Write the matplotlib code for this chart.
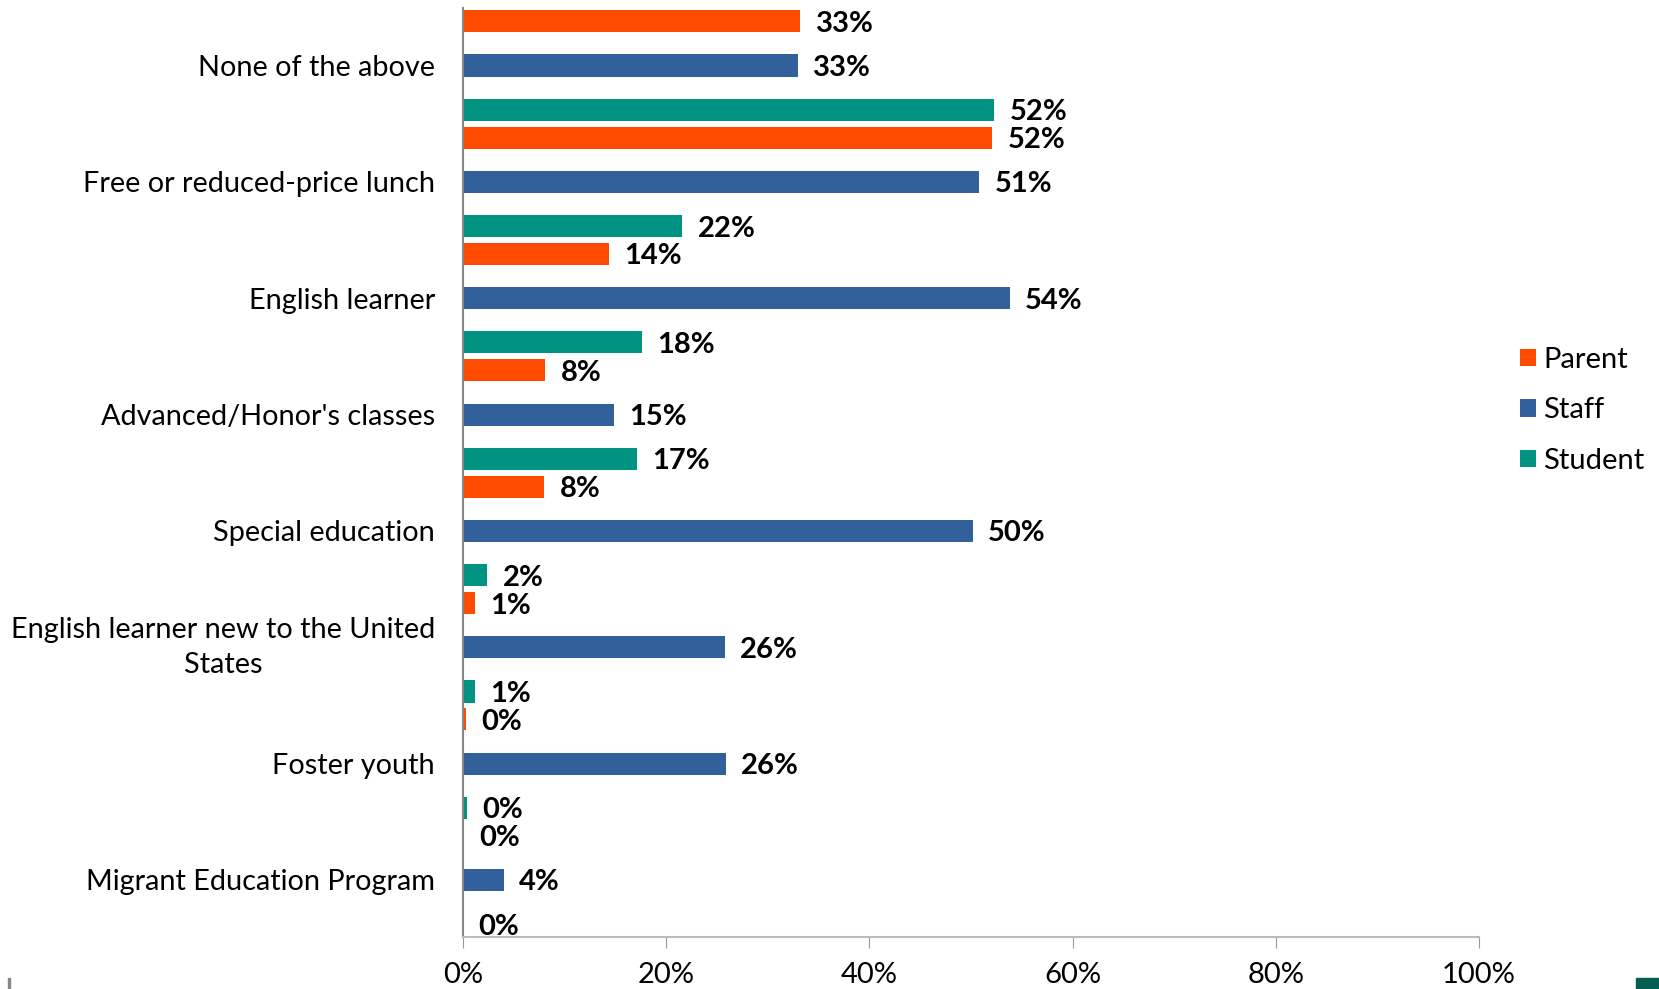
import matplotlib
matplotlib.use("Agg")
import matplotlib.pyplot as plt
import numpy as np
from matplotlib.patches import Rectangle

plt.rcParams['font.family'] = ['Lato', 'DejaVu Sans']

# categories top to bottom
categories = ["None of the above", "Free or reduced-price lunch", "English learner",
              "Advanced/Honor's classes", "Special education",
              "English learner new to the United\nStates", "Foster youth",
              "Migrant Education Program"]
# percentages
parent = [33.2, 52.1, 14.4, 8.1, 8.0, 1.2, 0.3, 0.1]
staff = [33.0, 50.8, 53.8, 14.9, 50.2, 25.8, 25.9, 4.0]
student = [52.3, 21.6, 17.6, 17.1, 2.4, 1.2, 0.4, 0.05]
xticks = [0, 20, 40, 60, 80, 100]

c_parent = '#FF4B00'
c_staff = '#31609A'
c_student = '#009383'

fig = plt.figure(figsize=(16.59, 9.89), dpi=100)
ax = fig.add_axes([0.279, 0.0526, 0.6125, 0.9394])

y = np.arange(len(categories))
h = 0.19
off = 0.38
series = [(parent, y - off, c_parent, 'Parent'),
          (staff, y, c_staff, 'Staff'),
          (student, y + off, c_student, 'Student')]
for vals, pos, col, name in series:
    ax.barh(pos, vals, height=h, color=col, label=name)
    for v, p in zip(vals, pos):
        ax.annotate(f"{v:.0f}%", (v, p), xytext=(11, -1.8), textcoords='offset points',
                    va='center', ha='left', fontsize=21, fontweight='bold', color='black')

ax.set_xlim(0, 100)
ax.set_ylim(7.49, -0.495)
ax.set_yticks(y)
ax.set_yticklabels(categories, fontsize=20.8)
for lbl in ax.get_yticklabels():
    lbl.set_multialignment('center')
    lbl.set_linespacing(1.45)
    if '\n' in lbl.get_text():
        lbl.set_va('center')
ax.tick_params(axis='y', length=0, pad=20)
ax.set_xticks(xticks)
ax.set_xticklabels([f"{t}%" for t in xticks], fontsize=21)
ax.tick_params(axis='x', length=8, color='#999999', pad=10, direction='out')

for s in ['top', 'right']:
    ax.spines[s].set_visible(False)
ax.spines['left'].set_color('#888888')
ax.spines['left'].set_linewidth(1.5)
ax.spines['bottom'].set_color('#bbbbbb')
ax.spines['bottom'].set_linewidth(1.5)

ax.legend(loc='center left', bbox_to_anchor=(0.9005, 0.585), bbox_transform=fig.transFigure,
          frameon=False, fontsize=21, handlelength=0.55, handleheight=0.55,
          handletextpad=0.25, labelspacing=0.84)

# small marks along the bottom edge of the picture
fig.add_artist(Rectangle((0.0048, 0.0), 0.0012, 0.011, transform=fig.transFigure, color='#888888'))
fig.add_artist(Rectangle((0.986, 0.0), 0.014, 0.011, transform=fig.transFigure, color='#005F50'))

fig.savefig('out.png', dpi=100)
